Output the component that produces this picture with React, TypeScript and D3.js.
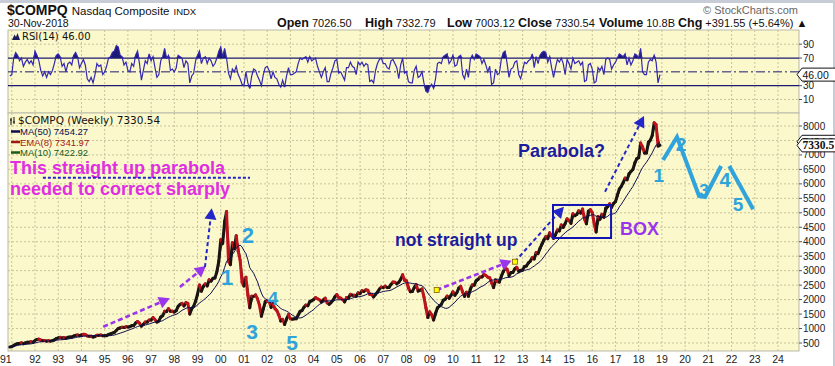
import React from 'react';
import * as d3 from 'd3';

// Nasdaq Composite, month-end closes (Nov-1990 .. Nov-2018)
const price1990s = [
  359, 374,
  414, 453, 482, 484, 506, 476, 502, 526, 527, 542, 524, 586,
  620, 633, 603, 578, 585, 563, 581, 563, 583, 605, 652, 677,
  696, 671, 690, 662, 700, 704, 705, 743, 763, 779, 754, 777,
  800, 793, 743, 733, 735, 706, 722, 765, 764, 777, 750, 752,
  756, 793, 817, 843, 865, 933, 1001, 1020, 1044, 1036, 1059, 1052,
  1060, 1100, 1101, 1191, 1243, 1185, 1081, 1141, 1227, 1222, 1293, 1291,
  1380, 1309, 1222, 1261, 1400, 1442, 1594, 1587, 1686, 1594, 1601, 1570,
  1619, 1771, 1835, 1868, 1779, 1895, 1872, 1499, 1694, 1771, 1950, 2193,
  2506, 2288, 2461, 2543, 2471, 2686, 2638, 2739, 2746, 2967, 3336, 4069,
];
const price2000s = [
  3940, 4696, 5048, 3321, 3205, 3966, 3767, 4206, 3673, 3370, 2598, 2471,
  2773, 2152, 1720, 2116, 2110, 2161, 2027, 1805, 1423, 1690, 1931, 1950,
  1934, 1731, 1845, 1688, 1616, 1463, 1262, 1315, 1139, 1330, 1479, 1336,
  1321, 1338, 1341, 1464, 1596, 1623, 1735, 1810, 1787, 1932, 1960, 2003,
  2066, 2030, 1994, 1920, 1987, 2048, 1887, 1838, 1897, 1975, 2097, 2175,
  2062, 2052, 1999, 1922, 2068, 2057, 2185, 2152, 2152, 2120, 2233, 2205,
  2306, 2281, 2340, 2323, 2179, 2172, 2091, 2184, 2258, 2367, 2432, 2415,
  2464, 2416, 2422, 2525, 2605, 2603, 2546, 2596, 2702, 2859, 2661, 2652,
  2389, 2271, 2279, 2413, 2523, 2293, 2326, 2368, 2092, 1721, 1384, 1577,
  1476, 1293, 1529, 1717, 1774, 1835, 1979, 2009, 2122, 2045, 2145, 2269,
];
const price2010s = [
  2147, 2238, 2398, 2461, 2257, 2109, 2255, 2114, 2369, 2507, 2498, 2653,
  2700, 2782, 2781, 2874, 2835, 2774, 2756, 2579, 2415, 2684, 2620, 2605,
  2814, 2967, 3092, 3046, 2827, 2935, 2940, 3067, 3116, 2977, 3010, 3020,
  3142, 3160, 3268, 3329, 3456, 3403, 3626, 3590, 3771, 3920, 4060, 4177,
  4104, 4308, 4199, 4115, 4243, 4408, 4370, 4580, 4493, 4631, 4792, 4736,
  4635, 4964, 4901, 4941, 5070, 4987, 5128, 4777, 4620, 5054, 5109, 5007,
  4614, 4338, 4870, 4775, 4948, 4843, 5162, 5213, 5312, 5189, 5324, 5383,
  5615, 5825, 5912, 6048, 6199, 6140, 6348, 6429, 6496, 6728, 6874, 6903,
  7411, 7273, 7063, 7066, 7442, 7510, 7672, 8110, 8046, 7306, 7331,
];

// RSI(14), one value per month
const rsi1990s = [
  44, 46,
  70, 78, 74, 66, 70, 58, 64, 68, 62, 66, 60, 80,
  74, 66, 52, 44, 50, 42, 50, 46, 52, 62, 74, 76,
  72, 58, 62, 50, 62, 64, 60, 74, 78, 72, 56, 62,
  68, 60, 40, 36, 42, 34, 46, 62, 58, 60, 46, 50,
  58, 70, 72, 78, 80, 88, 86, 74, 72, 60, 64, 52,
  50, 62, 58, 74, 80, 62, 38, 52, 66, 62, 76, 66,
  72, 56, 42, 46, 66, 72, 84, 70, 74, 52, 54, 50,
  56, 74, 72, 70, 56, 66, 62, 34, 44, 48, 66, 74,
  80, 62, 70, 72, 62, 70, 66, 58, 62, 70, 80, 86,
];
const rsi2000s = [
  72, 84, 70, 48, 40, 54, 50, 58, 46, 40, 32, 30,
  50, 34, 26, 44, 54, 52, 44, 38, 30, 46, 56, 58,
  52, 40, 50, 42, 40, 32, 28, 38, 28, 44, 56, 46,
  46, 48, 50, 62, 70, 68, 70, 72, 64, 72, 66, 68,
  70, 58, 50, 42, 50, 56, 36, 36, 48, 56, 66, 68,
  48, 50, 44, 38, 56, 56, 64, 58, 56, 46, 64, 60,
  64, 58, 62, 60, 36, 38, 34, 52, 62, 68, 70, 62,
  62, 56, 54, 66, 68, 62, 56, 40, 60, 70, 48, 50,
  36, 34, 34, 52, 58, 42, 44, 50, 34, 22, 20, 28,
  32, 26, 40, 62, 64, 62, 72, 74, 76, 62, 66, 74,
];
const rsi2010s = [
  58, 60, 72, 74, 46, 40, 54, 42, 68, 74, 68, 76,
  74, 72, 62, 68, 60, 50, 58, 32, 34, 54, 46, 48,
  68, 78, 80, 62, 42, 54, 56, 64, 66, 46, 40, 52,
  64, 62, 66, 68, 76, 56, 72, 62, 74, 78, 80, 78,
  64, 72, 56, 42, 56, 68, 64, 70, 62, 46, 68, 62,
  54, 70, 62, 64, 66, 60, 64, 36, 38, 60, 62, 54,
  34, 36, 56, 52, 58, 46, 68, 70, 68, 54, 60, 64,
  70, 76, 74, 72, 76, 60, 70, 60, 66, 76, 74, 70,
  84, 50, 46, 46, 64, 68, 66, 74, 64, 34, 46,
];

const yearTicks = d3.range(1991, 2025);
const priceTicks = d3.range(500, 8001, 500).filter((v) => v !== 7500); // 7500 sits under the value tags
const rsiTicks = [90, 70, 30, 10];

// hand-drawn annotations, in (year, price) units
const purpleArrows = [
  [[1994.94, 1063], [1997.81, 2045]],
  [[1998.24, 2435], [1999.36, 3161]],
  [[2009.3, 2332], [2012.53, 3344]],
];
const blueArrows = [
  [[1999.32, 3127], [1999.61, 5156]],
  [[2012.67, 3310], [2014.78, 5211]],
  [[2016.55, 5729], [2018.23, 8346]],
];
const waveUp = [[2019.05, 6825], [2019.65, 7620], [2020.6, 5581], [2020.86, 5546], [2021.55, 6618]];
const waveDown = [[2021.9, 6618], [2022.93, 5121]];
const waveLabels = [
  { t: '1', d: [2000.27, 2781], s: 22 },
  { t: '2', d: [2001.17, 4233], s: 22 },
  { t: '3', d: [2001.35, 915], s: 21 },
  { t: '4', d: [2002.25, 2055], s: 19 },
  { t: '5', d: [2003.07, 535], s: 21 },
  { t: '1', d: [2018.87, 6306], s: 19 },
  { t: '2', d: [2019.82, 7378], s: 19 },
  { t: '3', d: [2020.81, 5788], s: 17 },
  { t: '4', d: [2021.72, 6134], s: 20 },
  { t: '5', d: [2022.28, 5304], s: 19 },
];

const price = [...price1990s, ...price2000s, ...price2010s];
const rsi = [...rsi1990s, ...rsi2000s, ...rsi2010s];

const L = 8, RIGHT = 799;
const RSI_TOP = 30, RSI_BOT = 113, P_TOP = 113, P_BOT = 351;
const BG = '#fbf8cb';
const GRID = '#c9c29a';
const CYAN = '#2ea3dc';
const PURPLE = '#9a35ec';
const BLUE = '#2326c8';
const NAVY = '#1c1c9e';

export default function App() {
  const dates = price.map((_, i) => 1990 + (11 + i) / 12);
  const X = d3.scaleLinear().domain([1992, 2024]).range([35, 778]);
  const Y = d3.scaleLinear().domain([500, 8000]).range([343, 126]);
  const R = d3.scaleLinear().domain([10, 90]).range([99.5, 44.2]);

  const sma = (k: number) => price.map((_, i) => d3.mean(price.slice(Math.max(0, i - k + 1), i + 1)) as number);
  const ma50 = sma(12);
  const ma10 = sma(2);
  const ema8: number[] = [];
  price.forEach((v, i) => ema8.push(i === 0 ? v : ema8[i - 1] + 0.7 * (v - ema8[i - 1])));

  const pLine = d3.line<number>().x((_, i) => X(dates[i])).y((v) => Y(v));
  const rLine = d3.line<number>().x((_, i) => X(dates[i])).y((v) => R(v));
  const over70 = d3.area<number>().x((_, i) => X(dates[i])).y0(R(70)).y1((v) => R(Math.max(v, 70)));
  const under30 = d3.area<number>().x((_, i) => X(dates[i])).y0(R(30)).y1((v) => R(Math.min(v, 30)));
  const pt = (d: number[]) => [X(d[0]), Y(d[1])];
  const poly = d3.line<number[]>().x((d) => X(d[0])).y((d) => Y(d[1]));

  const arrow = (a: number[][], color: string, w: number, dash: string, key: string) => {
    const [x1, y1] = pt(a[0]);
    const [x2, y2] = pt(a[1]);
    const ang = Math.atan2(y2 - y1, x2 - x1);
    const len = 11, hw = 6;
    const bx = x2 - len * Math.cos(ang), by = y2 - len * Math.sin(ang);
    const px = -Math.sin(ang) * hw, py = Math.cos(ang) * hw;
    return (
      <g key={key}>
        <line x1={x1} y1={y1} x2={bx} y2={by} stroke={color} strokeWidth={w} strokeDasharray={dash} />
        <path d={`M${x2},${y2}L${bx + px},${by + py}L${bx - px},${by - py}Z`} fill={color} />
      </g>
    );
  };

  const segs = price.slice(1).map((v, i) => ({
    x1: X(dates[i]), y1: Y(price[i]), x2: X(dates[i + 1]), y2: Y(v),
    up: v >= price[i],
  }));

  const valBox = (y: number, label: string, bold: boolean, key: string) => (
    <g key={key}>
      <path d={`M797,${y}L802,${y - 6.5}L836,${y - 6.5}L836,${y + 6.5}L802,${y + 6.5}Z`} fill="#fff" stroke="#111" strokeWidth={1} />
      <text x={802.5} y={y + 4} fontFamily={bold ? 'Liberation Serif, serif' : 'Liberation Sans, Arial, sans-serif'}
        fontWeight={bold ? 'bold' : 'normal'} fontSize={bold ? 11.5 : 10.5} fill="#111">{label}</text>
    </g>
  );

  const sans = 'Liberation Sans, Arial, sans-serif';
  const dv = 'DejaVu Sans, Verdana, sans-serif';
  const sq1 = pt(purpleArrows[2][0]);
  const sq2 = pt(blueArrows[1][0]);
  const stats: [string, string, number][] = [
    ['Open', '7026.50', 277], ['High', '7332.79', 365], ['Low', '7003.12', 447],
    ['Close', '7330.54', 518], ['Volume', '10.8B', 599], ['Chg', '+391.55 (+5.64%) \u25B2', 678],
  ];

  return (
    <div style={{ position: 'absolute', left: 0, top: 0 }}>
      <svg width={835} height={366} style={{ display: 'block', background: '#fff' }}>
        <defs>
          <clipPath id="rsiClip"><rect x={L} y={RSI_TOP} width={RIGHT - L} height={RSI_BOT - RSI_TOP} /></clipPath>
          <clipPath id="pClip"><rect x={L} y={P_TOP} width={RIGHT - L} height={P_BOT - P_TOP} /></clipPath>
        </defs>
        <rect x={0} y={0} width={835} height={3} fill="#c8ccd6" />
        <rect x={833} y={0} width={2} height={366} fill="#c8ccd6" />

        {/* header */}
        <text x={7} y={15} fontFamily={sans} fill="#111">
          <tspan fontWeight="bold" fontSize={14}>$COMPQ</tspan>
          <tspan fontSize={11.5} dx={4}>Nasdaq Composite</tspan>
          <tspan fontSize={9.5} dx={4}>INDX</tspan>
        </text>
        <text x={8} y={27} fontFamily={sans} fontSize={10.5} fill="#111">30-Nov-2018</text>
        {stats.map(([k, v, x]) => (
          <text key={k} x={x} y={27} fontFamily={sans} fill="#111">
            <tspan fontWeight="bold" fontSize={12.5}>{k}</tspan>
            <tspan fontSize={11} dx={3}>{v}</tspan>
          </text>
        ))}
        <text x={798} y={14} textAnchor="end" fontFamily={sans} fontSize={11} fill="#666">{'\u00A9 StockCharts.com'}</text>

        {/* panels */}
        <rect x={L} y={RSI_TOP} width={RIGHT - L} height={RSI_BOT - RSI_TOP} fill={BG} stroke="#b9b9a8" />
        <rect x={L} y={P_TOP} width={RIGHT - L} height={P_BOT - P_TOP} fill={BG} stroke="#b9b9a8" />

        {yearTicks.map((yr) => X(yr) > L && X(yr) < RIGHT && (
          <g key={yr}>
            <line x1={X(yr)} x2={X(yr)} y1={RSI_TOP} y2={RSI_BOT} stroke={GRID} strokeDasharray="2,2" />
            <line x1={X(yr)} x2={X(yr)} y1={P_TOP} y2={P_BOT} stroke={GRID} strokeDasharray="2,2" />
          </g>
        ))}
        {d3.range(500, 8001, 500).map((v) => (
          <line key={v} x1={L} x2={RIGHT} y1={Y(v)} y2={Y(v)} stroke={GRID} strokeDasharray="2,2" />
        ))}
        {[90, 10].map((v) => (
          <line key={v} x1={L} x2={RIGHT} y1={R(v)} y2={R(v)} stroke={GRID} strokeDasharray="2,2" />
        ))}

        {/* RSI */}
        <g clipPath="url(#rsiClip)">
          <path d={over70(rsi) || ''} fill="#1c1a78" />
          <path d={under30(rsi) || ''} fill="#1c1a78" />
          <line x1={L} x2={RIGHT} y1={R(70)} y2={R(70)} stroke="#1c1a70" strokeWidth={1.2} />
          <line x1={L} x2={RIGHT} y1={R(30)} y2={R(30)} stroke="#1c1a70" strokeWidth={1.2} />
          <line x1={L} x2={RIGHT} y1={R(50)} y2={R(50)} stroke="#1c1a70" strokeWidth={1} strokeDasharray="9,3,2,3" />
          <path d={rLine(rsi) || ''} fill="none" stroke="#3428b0" strokeWidth={1.2} />
        </g>
        <path d="M12,40L14.5,34.5L16,37L17.5,33L20,40Z" fill="#1a1a5a" />
        <text x={22} y={40} fontFamily={dv} fontSize={10} fill="#111">RSI(14) 46.00</text>
        {rsiTicks.map((v) => (
          <g key={v}>
            <line x1={RIGHT} x2={802} y1={R(v)} y2={R(v)} stroke="#555" />
            <text x={803} y={R(v) + 3.5} fontFamily={sans} fontSize={10} fill="#222">{v}</text>
          </g>
        ))}
        {valBox(R(46), '46.00', false, 'rsibox')}

        {/* price */}
        <g clipPath="url(#pClip)">
          <path d={pLine(ema8) || ''} fill="none" stroke="#b01818" strokeWidth={1} />
          <path d={pLine(ma10) || ''} fill="none" stroke="#1a6a1a" strokeWidth={1} />
          {segs.map((s, i) => (
            <line key={i} x1={s.x1} y1={s.y1} x2={s.x2} y2={s.y2} stroke={s.up ? '#1a1412' : '#c0121c'}
              strokeWidth={3} strokeLinecap="round" />
          ))}
          <path d={pLine(ma50) || ''} fill="none" stroke="#0c0c50" strokeWidth={1} />
        </g>
        {priceTicks.map((v) => (
          <g key={v}>
            <line x1={RIGHT} x2={802} y1={Y(v)} y2={Y(v)} stroke="#555" />
            <text x={803} y={Y(v) + 3.5} fontFamily={sans} fontSize={10} fill="#222">{v}</text>
          </g>
        ))}
        {valBox(Y(7454.27), '7454.2', true, 'ma50box')}
        {valBox(Y(7330.54), '7330.5', true, 'lastbox')}

        {/* legend */}
        <path d="M11,118L11,125M10,120L12,120M14,117L14,124M13,122L15,122" stroke="#111" strokeWidth={1} />
        <text x={18} y={123.5} fontFamily={dv} fontSize={10.5} fill="#111">$COMPQ (Weekly) 7330.54</text>
        {[['MA(50) 7454.27', '#0c0c50'], ['EMA(8) 7341.97', '#a01818'], ['MA(10) 7422.92', '#1a5a1a']].map(([t, c], i) => (
          <g key={t}>
            <line x1={11} x2={20} y1={131.5 + i * 10.5} y2={131.5 + i * 10.5} stroke={c} strokeWidth={2.5} />
            <text x={20} y={135 + i * 10.5} fontFamily={sans} fontSize={9.5} fill={c}>{t}</text>
          </g>
        ))}

        {/* annotations */}
        <text x={10} y={173.5} fontFamily={sans} fontWeight="bold" fontSize={18} fill="#e02ee0">This straight up parabola</text>
        <text x={10} y={194.5} fontFamily={sans} fontWeight="bold" fontSize={18} fill="#e02ee0">needed to correct sharply</text>
        <line x1={X(1992.34)} x2={X(2001.26)} y1={Y(6213)} y2={Y(6213)} stroke={BLUE} strokeWidth={2} strokeDasharray="3,2" />
        {purpleArrows.map((a, i) => arrow(a, PURPLE, 2.6, '5,3', 'pa' + i))}
        {blueArrows.map((a, i) => arrow(a, BLUE, 2, '4,3', 'ba' + i))}
        <rect x={X(2014.31)} y={Y(5270)} width={X(2016.81) - X(2014.31)} height={Y(4129) - Y(5270)}
          fill="none" stroke="#1414b4" strokeWidth={2} />
        {[sq1, sq2].map((p, i) => (
          <rect key={i} x={p[0] - 2.5} y={p[1] - 2.5} width={5} height={5} fill="#ffff00" stroke="#806000" strokeWidth={0.8} />
        ))}
        <text x={395} y={245.5} fontFamily={sans} fontWeight="bold" fontSize={17.5} fill={NAVY}>not straight up</text>
        <text x={518} y={157} fontFamily={sans} fontWeight="bold" fontSize={18} fill={NAVY}>Parabola?</text>
        <text x={620} y={235} fontFamily={sans} fontWeight="bold" fontSize={18} fill={PURPLE}>BOX</text>

        <path d={poly(waveUp) || ''} fill="none" stroke={CYAN} strokeWidth={4} strokeLinejoin="miter" />
        <path d={poly(waveDown) || ''} fill="none" stroke={CYAN} strokeWidth={4} />
        {waveLabels.map((w, i) => (
          <text key={i} x={X(w.d[0])} y={Y(w.d[1])} dy="0.36em" textAnchor="middle" fontFamily={sans}
            fontWeight="bold" fontSize={w.s} fill={CYAN}>{w.t}</text>
        ))}

        {/* x axis */}
        {yearTicks.map((yr) => {
          const x = X(yr);
          const lbl = String(yr).slice(2);
          return (
            <text key={yr} x={x < 12 ? 0 : x} y={363} textAnchor={x < 12 ? 'start' : 'middle'}
              fontFamily={sans} fontSize={10.5} fill="#222">{lbl}</text>
          );
        })}
      </svg>
    </div>
  );
}
